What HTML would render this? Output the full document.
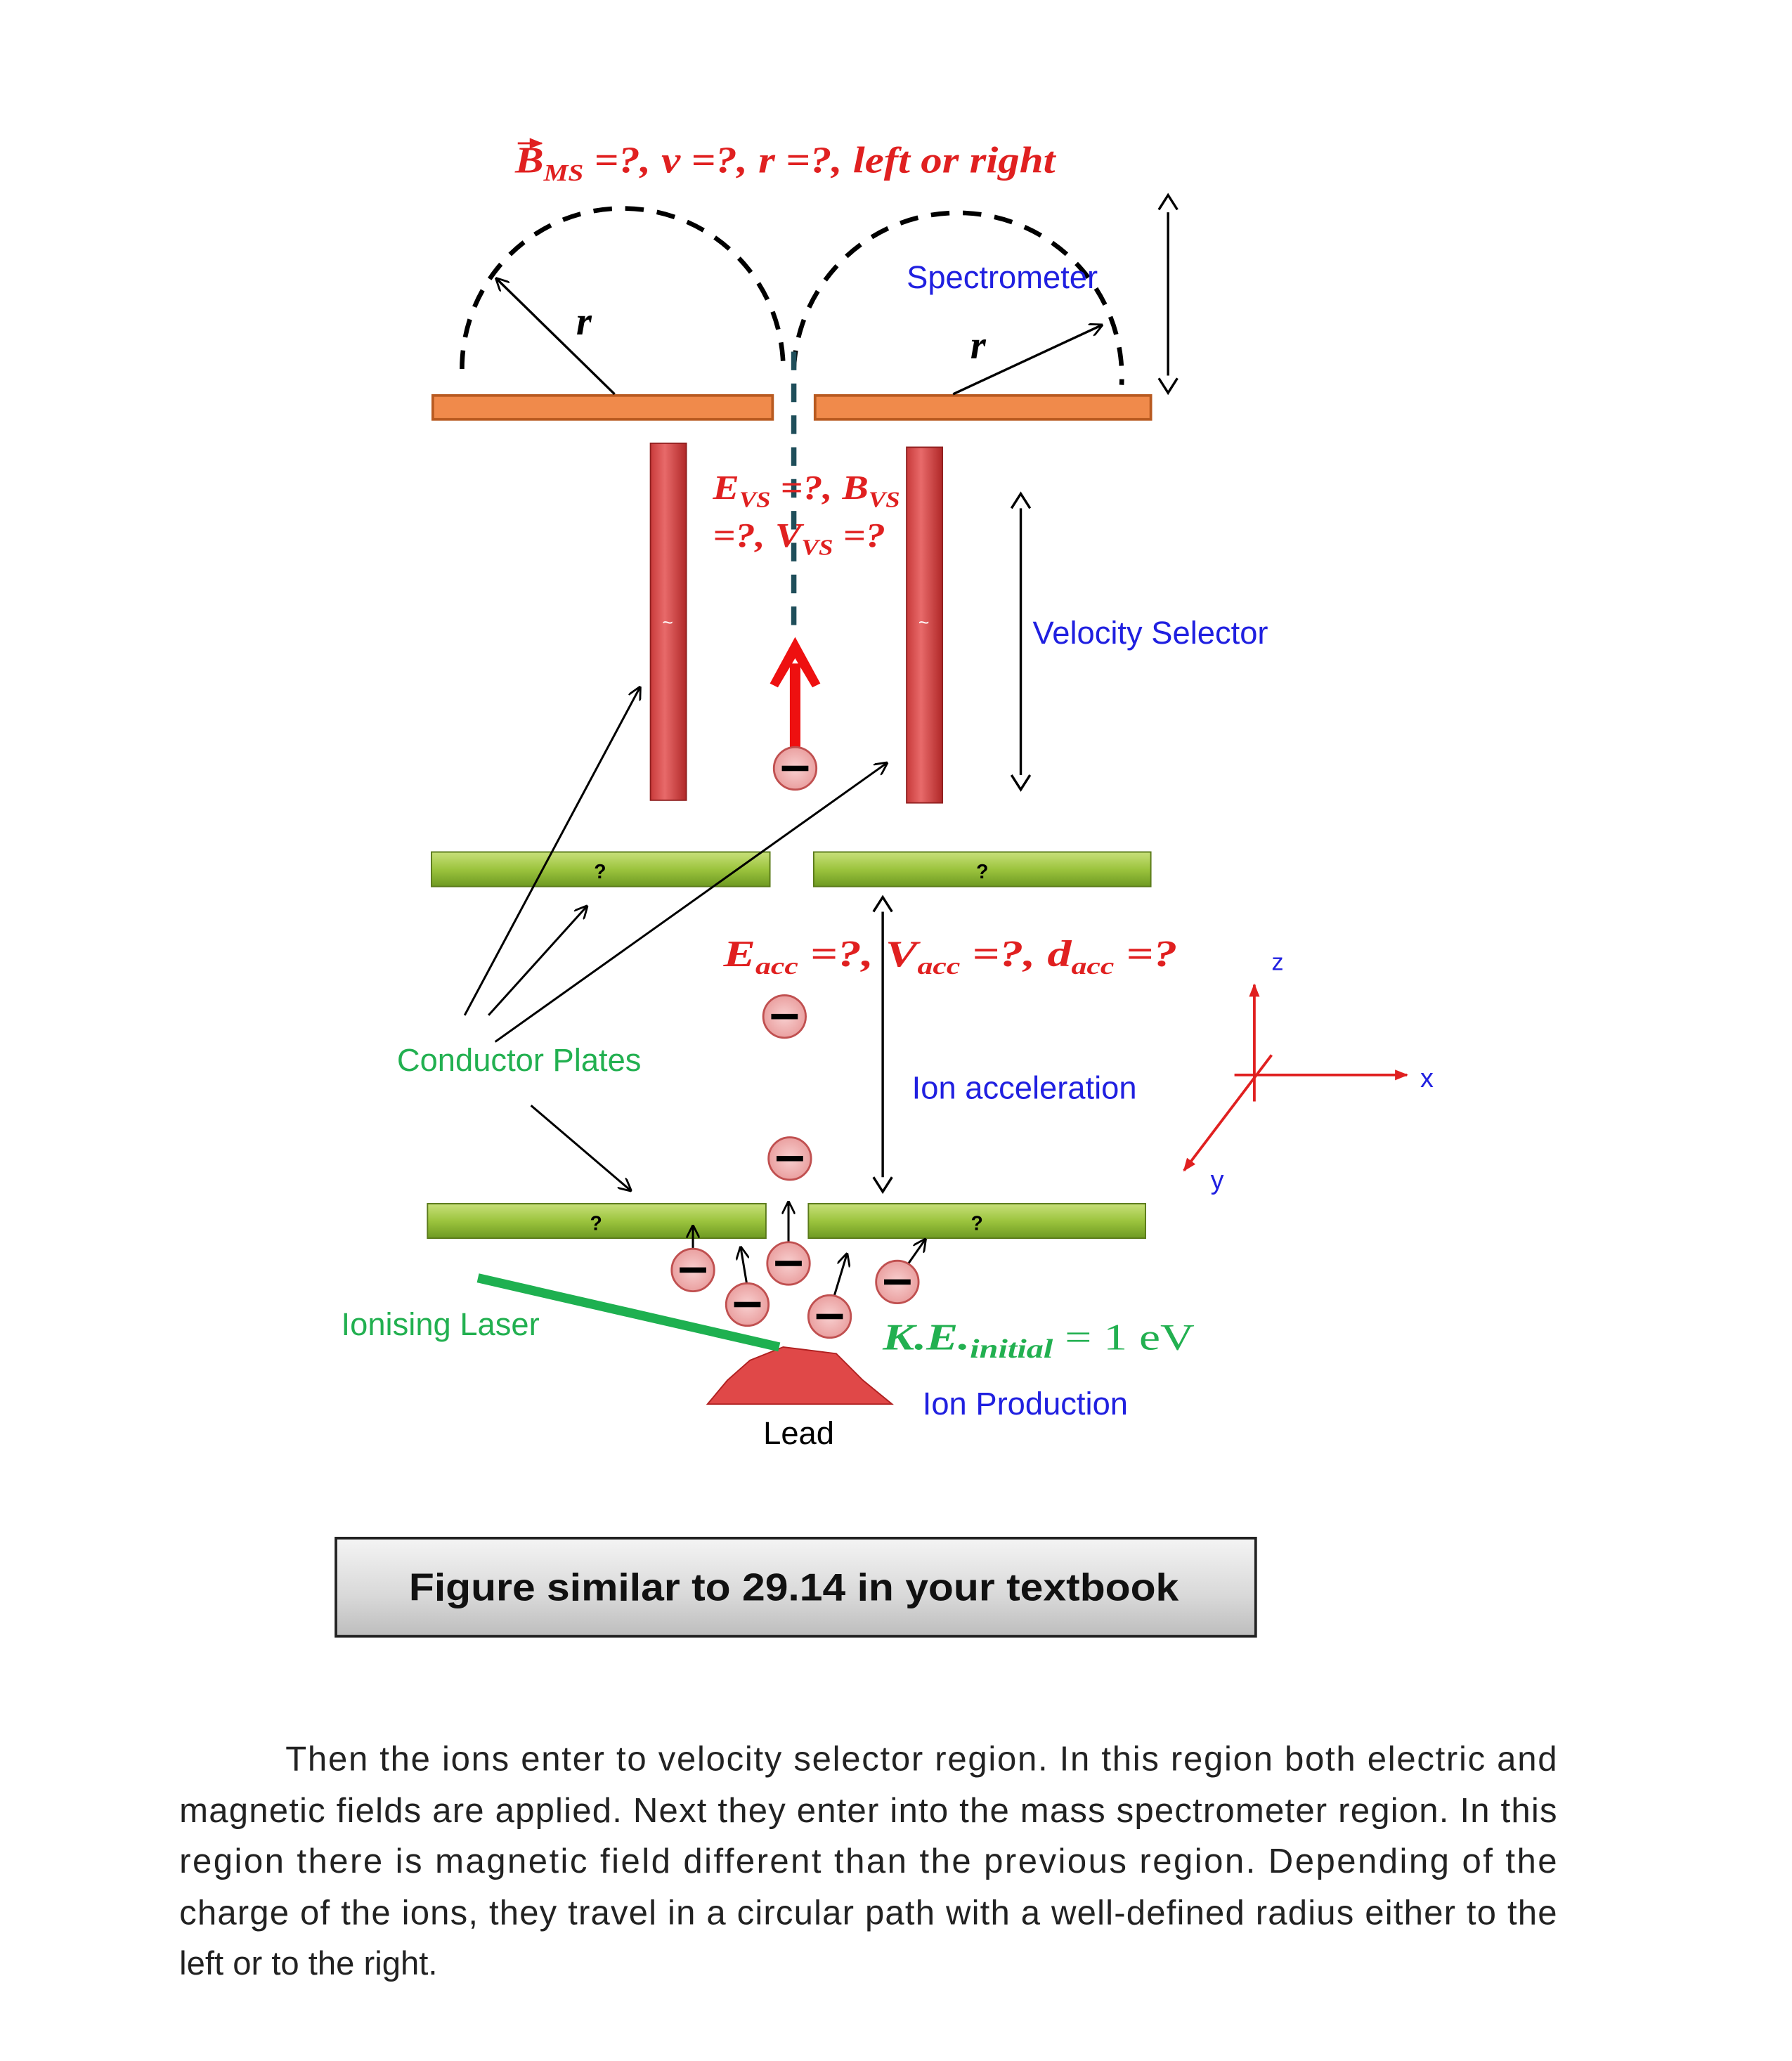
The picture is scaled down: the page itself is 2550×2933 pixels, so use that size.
<!DOCTYPE html>
<html><head><meta charset="utf-8"><style>
html,body{margin:0;padding:0;background:#fff;}
svg{display:block;}
.sans{font-family:"Liberation Sans","DejaVu Sans",sans-serif;}
.ser{font-family:"Liberation Serif",serif;font-style:italic;font-weight:bold;}
</style></head><body>
<svg width="2550" height="2933" viewBox="0 0 1350 1553" xmlns="http://www.w3.org/2000/svg">
<defs>
<marker id="ah" markerWidth="10" markerHeight="10" refX="9" refY="5" orient="auto" markerUnits="userSpaceOnUse"><path d="M0,0 L10,5 L0,10" fill="none" stroke="#000" stroke-width="1.5"/></marker>
<marker id="ahr" markerWidth="10" markerHeight="10" refX="9" refY="5" orient="auto" markerUnits="userSpaceOnUse"><path d="M0,1 L10,5 L0,9 Z" fill="#e02020"/></marker>
<linearGradient id="rb" x1="0" x2="1"><stop offset="0" stop-color="#c83a3a"/><stop offset=".4" stop-color="#e86a6a"/><stop offset="1" stop-color="#b02828"/></linearGradient>
<linearGradient id="gp" x1="0" y1="0" x2="0" y2="1"><stop offset="0" stop-color="#c8e07a"/><stop offset=".5" stop-color="#9cc43e"/><stop offset="1" stop-color="#6e9a22"/></linearGradient>
<linearGradient id="bx" x1="0" y1="0" x2="0" y2="1"><stop offset="0" stop-color="#f4f4f4"/><stop offset=".6" stop-color="#d8d8d8"/><stop offset="1" stop-color="#bdbdbd"/></linearGradient>
<radialGradient id="ion"><stop offset="0" stop-color="#f8d0d0"/><stop offset="1" stop-color="#eaa0a0"/></radialGradient>
<g id="ionc"><circle r="16" fill="url(#ion)" stroke="#c05050" stroke-width="1.5"/><rect x="-10" y="-2" width="20" height="4" fill="#000"/></g>
</defs>

<text x="388" y="130" class="ser" font-size="28" fill="#e02020" textLength="407" lengthAdjust="spacingAndGlyphs">B<tspan font-size="18" dy="6">MS</tspan><tspan dy="-6"> =?, v =?, r =?, left or right</tspan></text>
<path d="M390,108 L408,108" stroke="#e02020" stroke-width="1.5" marker-end="url(#ahr)"/>

<path d="M348,278 A121,121 0 0 1 590,278" fill="none" stroke="#000" stroke-width="3.5" stroke-dasharray="14,10"/>
<path d="M598,278 A123,123 0 0 1 845,290" fill="none" stroke="#000" stroke-width="3.5" stroke-dasharray="14,10"/>
<rect x="326" y="298" width="256" height="18" fill="#f08a4b" stroke="#b85a20" stroke-width="2"/>
<rect x="614" y="298" width="253" height="18" fill="#f08a4b" stroke="#b85a20" stroke-width="2"/>
<line x1="463" y1="297" x2="374" y2="210" stroke="#000" stroke-width="1.8" marker-end="url(#ah)"/>
<line x1="718" y1="297" x2="830" y2="245" stroke="#000" stroke-width="1.8" marker-end="url(#ah)"/>
<text x="434" y="252" class="ser" font-size="30">r</text>
<text x="731" y="270" class="ser" font-size="30">r</text>
<text x="683" y="217" class="sans" font-size="24" fill="#2020e0">Spectrometer</text>
<line x1="880" y1="160" x2="880" y2="283" stroke="#000" stroke-width="1.8"/>
<path d="M873,158 L880,147 L887,158 M873,285 L880,296 L887,285" fill="none" stroke="#000" stroke-width="1.8"/>

<line x1="598" y1="265" x2="598" y2="472" stroke="#1f4e5a" stroke-width="4" stroke-dasharray="14,10"/>

<rect x="490" y="334" width="27" height="269" fill="url(#rb)" stroke="#902020" stroke-width="1"/>
<rect x="683" y="337" width="27" height="268" fill="url(#rb)" stroke="#902020" stroke-width="1"/>
<text x="503" y="474" font-size="14" fill="#fff" text-anchor="middle" class="sans">~</text>
<text x="696" y="474" font-size="14" fill="#fff" text-anchor="middle" class="sans">~</text>
<text x="537" y="376" class="ser" font-size="26" fill="#e02020" textLength="141" lengthAdjust="spacingAndGlyphs">E<tspan font-size="17" dy="6">VS</tspan><tspan dy="-6"> =?, B</tspan><tspan font-size="17" dy="6">VS</tspan></text>
<text x="537" y="412" class="ser" font-size="26" fill="#e02020" textLength="130" lengthAdjust="spacingAndGlyphs">=?, V<tspan font-size="17" dy="6">VS</tspan><tspan dy="-6"> =?</tspan></text>

<line x1="599" y1="563" x2="599" y2="500" stroke="#ee1010" stroke-width="8"/>
<path d="M580,515 L599,480 L618,515 L612,518 L599,496 L586,518 Z" fill="#ee1010"/>
<use href="#ionc" x="599" y="579"/>

<line x1="769" y1="383" x2="769" y2="584" stroke="#000" stroke-width="1.8"/>
<path d="M762,383 L769,372 L776,383 M762,584 L769,595 L776,584" fill="none" stroke="#000" stroke-width="1.8"/>
<text x="778" y="485" class="sans" font-size="24" fill="#2020e0">Velocity Selector</text>

<rect x="325" y="642" width="255" height="26" fill="url(#gp)" stroke="#5a7a1a"/>
<rect x="613" y="642" width="254" height="26" fill="url(#gp)" stroke="#5a7a1a"/>
<rect x="322" y="907" width="255" height="26" fill="url(#gp)" stroke="#5a7a1a"/>
<rect x="609" y="907" width="254" height="26" fill="url(#gp)" stroke="#5a7a1a"/>
<text x="452" y="662" font-size="15" font-weight="bold" class="sans" text-anchor="middle">?</text>
<text x="740" y="662" font-size="15" font-weight="bold" class="sans" text-anchor="middle">?</text>
<text x="449" y="927" font-size="15" font-weight="bold" class="sans" text-anchor="middle">?</text>
<text x="736" y="927" font-size="15" font-weight="bold" class="sans" text-anchor="middle">?</text>

<text x="545" y="728" class="ser" font-size="28" fill="#e02020" textLength="342" lengthAdjust="spacingAndGlyphs">E<tspan font-size="18" dy="6">acc</tspan><tspan dy="-6"> =?, V</tspan><tspan font-size="18" dy="6">acc</tspan><tspan dy="-6"> =?, d</tspan><tspan font-size="18" dy="6">acc</tspan><tspan dy="-6"> =?</tspan></text>
<line x1="665" y1="687" x2="665" y2="887" stroke="#000" stroke-width="1.8"/>
<path d="M658,687 L665,676 L672,687 M658,887 L665,898 L672,887" fill="none" stroke="#000" stroke-width="1.8"/>
<text x="687" y="828" class="sans" font-size="24" fill="#2020e0">Ion acceleration</text>

<use href="#ionc" x="591" y="766"/>
<use href="#ionc" x="595" y="873"/>
<g stroke="#000" stroke-width="1.6" marker-end="url(#ah)">
<line x1="350" y1="765" x2="482" y2="518"/>
<line x1="368" y1="765" x2="442" y2="683"/>
<line x1="373" y1="785" x2="668" y2="575"/>
<line x1="400" y1="833" x2="475" y2="897"/>
<line x1="522" y1="948" x2="522" y2="924"/>
<line x1="563" y1="970" x2="558" y2="940"/>
<line x1="594" y1="938" x2="594" y2="906"/>
<line x1="628" y1="978" x2="638" y2="945"/>
<line x1="683" y1="954" x2="697" y2="934"/>
</g>
<text x="299" y="807" class="sans" font-size="24" fill="#22b050">Conductor Plates</text>

<use href="#ionc" x="522" y="957"/>
<use href="#ionc" x="563" y="983"/>
<use href="#ionc" x="594" y="952"/>
<use href="#ionc" x="625" y="992"/>
<use href="#ionc" x="676" y="966"/>

<g stroke="#e02020" stroke-width="2">
<line x1="945" y1="830" x2="945" y2="742" marker-end="url(#ahr)"/>
<line x1="930" y1="810" x2="1060" y2="810" marker-end="url(#ahr)"/>
<line x1="958" y1="795" x2="892" y2="882" marker-end="url(#ahr)"/>
</g>
<text x="958" y="731" class="sans" font-size="18" fill="#2020e0">z</text>
<text x="1070" y="819" class="sans" font-size="20" fill="#2020e0">x</text>
<text x="912" y="896" class="sans" font-size="20" fill="#2020e0">y</text>

<path d="M533,1058 L548,1040 L565,1025 L590,1015 L630,1020 L650,1040 L672,1058 Z" fill="#e04848" stroke="#b02020"/>
<line x1="360" y1="963" x2="587" y2="1015" stroke="#1eb050" stroke-width="7"/>
<text x="257" y="1006" class="sans" font-size="24" fill="#22b050">Ionising Laser</text>
<text x="665" y="1017" class="ser" font-size="28" fill="#22b050" textLength="235" lengthAdjust="spacingAndGlyphs">K.E.<tspan font-size="20" dy="6">initial</tspan><tspan dy="-6" font-style="normal" font-weight="normal"> = 1 eV</tspan></text>
<text x="695" y="1066" class="sans" font-size="24" fill="#2020e0">Ion Production</text>
<text x="575" y="1088" class="sans" font-size="24" fill="#000">Lead</text>

<rect x="253" y="1159" width="693" height="74" fill="url(#bx)" stroke="#222" stroke-width="2"/>
<text x="308" y="1206" class="sans" font-size="29" font-weight="bold" fill="#111" textLength="580" lengthAdjust="spacingAndGlyphs">Figure similar to 29.14 in your textbook</text>

<g class="sans" font-size="26" fill="#222">
<text x="215" y="1334" textLength="958" lengthAdjust="spacing">Then the ions enter to velocity selector region. In this region both electric and</text>
<text x="135" y="1373" textLength="1038" lengthAdjust="spacing">magnetic fields are applied. Next they enter into the mass spectrometer region. In this</text>
<text x="135" y="1411" textLength="1038" lengthAdjust="spacing">region there is magnetic field different than the previous region. Depending of the</text>
<text x="135" y="1450" textLength="1038" lengthAdjust="spacing">charge of the ions, they travel in a circular path with a well-defined radius either to the</text>
<text x="135" y="1488" font-size="25">left or to the right.</text>
</g>
</svg>
</body></html>
